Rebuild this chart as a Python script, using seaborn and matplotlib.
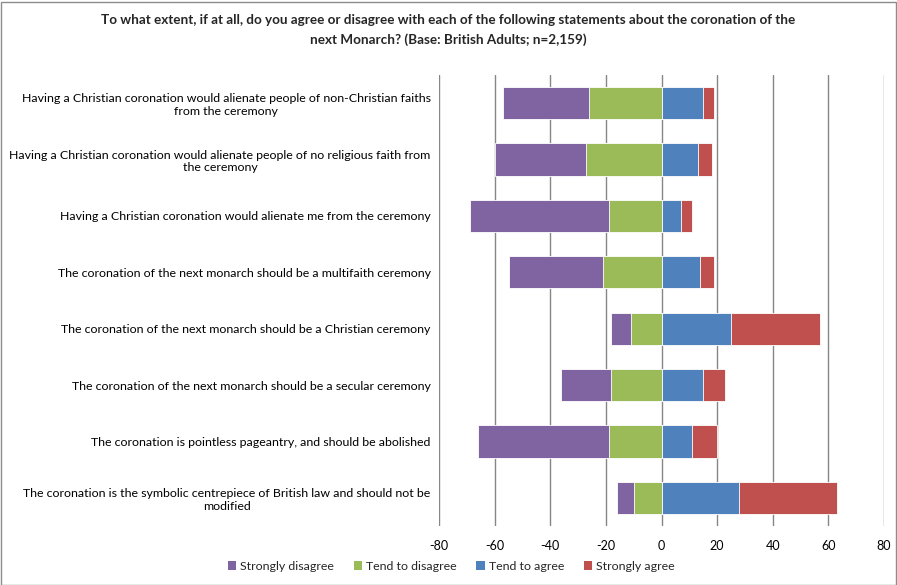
import matplotlib
matplotlib.use("Agg")
import matplotlib.pyplot as plt
import seaborn as sns
import pandas as pd
import numpy as np
from matplotlib.patches import Patch, Rectangle

statements = [
    "Having a Christian coronation would alienate people of non-Christian faiths\nfrom the ceremony",
    "Having a Christian coronation would alienate people of no religious faith from\nthe ceremony",
    "Having a Christian coronation would alienate me from the ceremony",
    "The coronation of the next monarch should be a multifaith ceremony",
    "The coronation of the next monarch should be a Christian ceremony",
    "The coronation of the next monarch should be a secular ceremony",
    "The coronation is pointless pageantry, and should be abolished",
    "The coronation is the symbolic centrepiece of British law and should not be\nmodified",
]
strongly_disagree = [31, 33, 50, 34, 7, 18, 47, 6]
tend_to_disagree = [26, 27, 19, 21, 11, 18, 19, 10]
tend_to_agree = [15, 13, 7, 14, 25, 15, 11, 28]
strongly_agree = [4, 5, 4, 5, 32, 8, 9, 35]

series_names = ["Strongly disagree", "Tend to disagree", "Tend to agree", "Strongly agree"]
colors = {"Strongly disagree": "#8064A2", "Tend to disagree": "#9BBB59",
          "Tend to agree": "#4F81BD", "Strongly agree": "#C0504D"}

df = pd.DataFrame({
    "statement": statements,
    "sd": strongly_disagree, "td": tend_to_disagree,
    "ta": tend_to_agree, "sa": strongly_agree,
})
# cumulative extents for layered (stacked) drawing
df["neg_outer"] = -(df["sd"] + df["td"])
df["neg_inner"] = -df["td"]
df["pos_outer"] = df["ta"] + df["sa"]
df["pos_inner"] = df["ta"]

sns.set_theme(style="white")
plt.rcParams["font.family"] = ["Lato", "DejaVu Sans"]
plt.rcParams["axes.unicode_minus"] = False

fig = plt.figure(figsize=(8.97, 5.85), dpi=100)
ax = fig.add_axes([439/897, 1-526/585, (884-439)/897, (526-75)/585])

bw = 0.57
edge = dict(edgecolor="#FFFFFF", linewidth=0.6)
sns.barplot(data=df, y="statement", x="neg_outer", color=colors["Strongly disagree"],
            width=bw, ax=ax, saturation=1, orient="h", **edge)
sns.barplot(data=df, y="statement", x="neg_inner", color=colors["Tend to disagree"],
            width=bw, ax=ax, saturation=1, orient="h", **edge)
sns.barplot(data=df, y="statement", x="pos_outer", color=colors["Strongly agree"],
            width=bw, ax=ax, saturation=1, orient="h", **edge)
sns.barplot(data=df, y="statement", x="pos_inner", color=colors["Tend to agree"],
            width=bw, ax=ax, saturation=1, orient="h", **edge)

ax.set_xlim(-80, 80)
ax.set_ylim(7.5, -0.5)
ax.set_xticks(np.arange(-80, 81, 20))
ax.xaxis.grid(True, color="#868686", linewidth=1.0)
ax.set_axisbelow(True)
for s in ax.spines.values():
    s.set_visible(False)
ax.set_xlabel("")
ax.set_ylabel("")
ax.tick_params(axis="x", length=0, pad=10, labelsize=9, labelcolor="#000000")
ax.tick_params(axis="y", length=0, pad=6, labelsize=8.9, labelcolor="#000000")
for lbl in ax.get_yticklabels():
    lbl.set_multialignment("center")

fig.text(0.5, 1-20/585, "To what extent, if at all, do you agree or disagree with each of the following statements about the coronation of the",
         ha="center", va="center", fontsize=9.7, fontweight="bold")
fig.text(0.5, 1-40/585, "next Monarch? (Base: British Adults; n=2,159)",
         ha="center", va="center", fontsize=9.7, fontweight="bold")

handles = [Patch(facecolor=colors[n], edgecolor="none", label=n) for n in series_names]
fig.legend(handles=handles, loc="center", bbox_to_anchor=(0.503, 1-566/585), ncol=4,
           frameon=False, fontsize=8.9, handlelength=0.7, handleheight=0.7,
           handletextpad=0.3, columnspacing=1.6)

fig.patches.append(Rectangle((0.001, 0.0), 0.998, 0.996, transform=fig.transFigure,
                             fill=False, edgecolor="#8C8C8C", linewidth=1))

fig.savefig("out.png", dpi=100)
